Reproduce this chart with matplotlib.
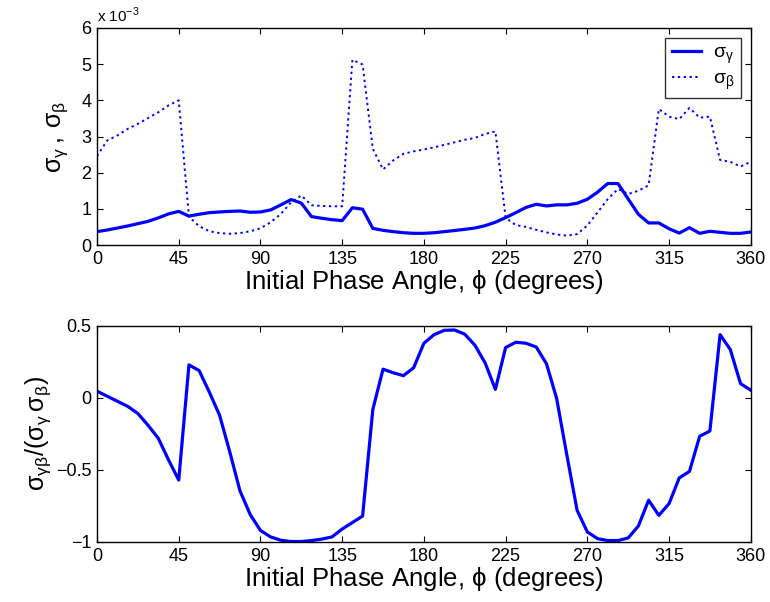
import numpy as np
import matplotlib
matplotlib.use("Agg")
import matplotlib.pyplot as plt

plt.rcParams['font.family'] = ['Liberation Sans', 'DejaVu Sans']
plt.rcParams['mathtext.fontset'] = 'custom'
plt.rcParams['mathtext.rm'] = 'Liberation Sans'
plt.rcParams['axes.unicode_minus'] = True

# initial phase angle, sampled every 360/64 degrees
phi = np.linspace(0, 360, 65)

# sigma_gamma, in units of 1e-3
sigma_gamma = [
    0.37, 0.415, 0.47, 0.526, 0.59, 0.655, 0.75, 0.86, 0.93, 0.80,
    0.85, 0.895, 0.914, 0.93, 0.94, 0.905, 0.914, 0.97, 1.11, 1.256,
    1.16, 0.785, 0.74, 0.70, 0.675, 1.03, 0.99, 0.46, 0.406, 0.37,
    0.34, 0.323, 0.323, 0.34, 0.37, 0.40, 0.434, 0.47, 0.535, 0.63,
    0.757, 0.895, 1.04, 1.127, 1.08, 1.11, 1.11, 1.154, 1.265, 1.46,
    1.70, 1.70, 1.274, 0.85, 0.61, 0.61, 0.45, 0.33, 0.48, 0.323,
    0.38, 0.35, 0.323, 0.323, 0.36,
]

# sigma_beta, in units of 1e-3
sigma_beta = [
    2.46, 2.89, 3.03, 3.21, 3.35, 3.51, 3.67, 3.86, 4.00, 0.78,
    0.52, 0.38, 0.33, 0.31, 0.33, 0.38, 0.46, 0.63, 0.86, 1.18,
    1.37, 1.10, 1.08, 1.07, 1.07, 5.12, 4.99, 2.66, 2.09, 2.34,
    2.52, 2.59, 2.64, 2.70, 2.77, 2.84, 2.91, 2.96, 3.07, 3.14,
    0.75, 0.55, 0.50, 0.42, 0.35, 0.29, 0.26, 0.30, 0.54, 0.90,
    1.27, 1.55, 1.41, 1.50, 1.65, 3.76, 3.55, 3.48, 3.79, 3.52,
    3.55, 2.35, 2.30, 2.17, 2.30,
]

# normalised correlation sigma_gb / (sigma_g * sigma_b)
corr = [
    0.047, 0.012, -0.023, -0.058, -0.108, -0.19, -0.28, -0.43, -0.57, 0.23,
    0.19, 0.04, -0.12, -0.375, -0.646, -0.81, -0.92, -0.965, -0.988, -0.997,
    -0.997, -0.99, -0.98, -0.965, -0.91, -0.865, -0.82, -0.08, 0.20, 0.175,
    0.155, 0.21, 0.38, 0.44, 0.47, 0.472, 0.443, 0.366, 0.243, 0.06,
    0.35, 0.387, 0.38, 0.354, 0.238, -0.004, -0.398, -0.78, -0.93, -0.977,
    -0.99, -0.99, -0.972, -0.889, -0.71, -0.815, -0.734, -0.555, -0.51, -0.266,
    -0.229, 0.44, 0.336, 0.10, 0.054,
]

xticks = [0, 45, 90, 135, 180, 225, 270, 315, 360]
xlabel = r'Initial Phase Angle, $\mathregular{ϕ}$ (degrees)'

fig = plt.figure(figsize=(7.7, 6.02), dpi=100)
ax1 = fig.add_axes([0.126, 0.593, 0.849, 0.3605])
ax2 = fig.add_axes([0.126, 0.0997, 0.849, 0.3588])

blue = '#0000ff'

ax1.plot(phi, sigma_gamma, color=blue, lw=2.3, label=r'$\mathregular{σ_γ}$')
ax1.plot(phi, sigma_beta, color=blue, lw=1.4, ls=(0, (1.2, 1.8)),
         label=r'$\mathregular{σ_β}$')
ax1.set_ylim(0, 6)
ax1.set_yticks([0, 1, 2, 3, 4, 5, 6])
ax1.set_ylabel(r'$\mathregular{σ_γ\,,\,σ_β}$', fontsize=18, labelpad=8)
ax1.text(0.0, 1.012, r'x 10$^{\mathregular{-3}}$', transform=ax1.transAxes,
         fontsize=11, va='bottom', ha='left')
leg = ax1.legend(loc='upper right', fontsize=14, frameon=True, fancybox=False,
                 handlelength=1.5, handletextpad=0.6, borderaxespad=0.5,
                 borderpad=0.35, labelspacing=0.2)
leg.get_frame().set_edgecolor('black')
leg.get_frame().set_linewidth(1.0)

ax2.plot(phi, corr, color=blue, lw=2.3)
ax2.set_ylim(-1, 0.5)
ax2.set_yticks([-1, -0.5, 0, 0.5])
ax2.set_yticklabels(['\u22121', '\u22120.5', '0', '0.5'])
ax2.set_ylabel(r'$\mathregular{σ_{γβ}/(σ_γ\,σ_β)}$', fontsize=18, labelpad=2)

for ax in (ax1, ax2):
    ax.set_xlim(0, 360)
    ax.set_xticks(xticks)
    ax.set_xlabel(xlabel, fontsize=18.5, labelpad=0)
    ax.tick_params(direction='in', length=4, width=0.8, top=True, right=True,
                   labelsize=13, pad=4)
    for s in ax.spines.values():
        s.set_linewidth(1.0)

fig.savefig('out.png', dpi=100)
